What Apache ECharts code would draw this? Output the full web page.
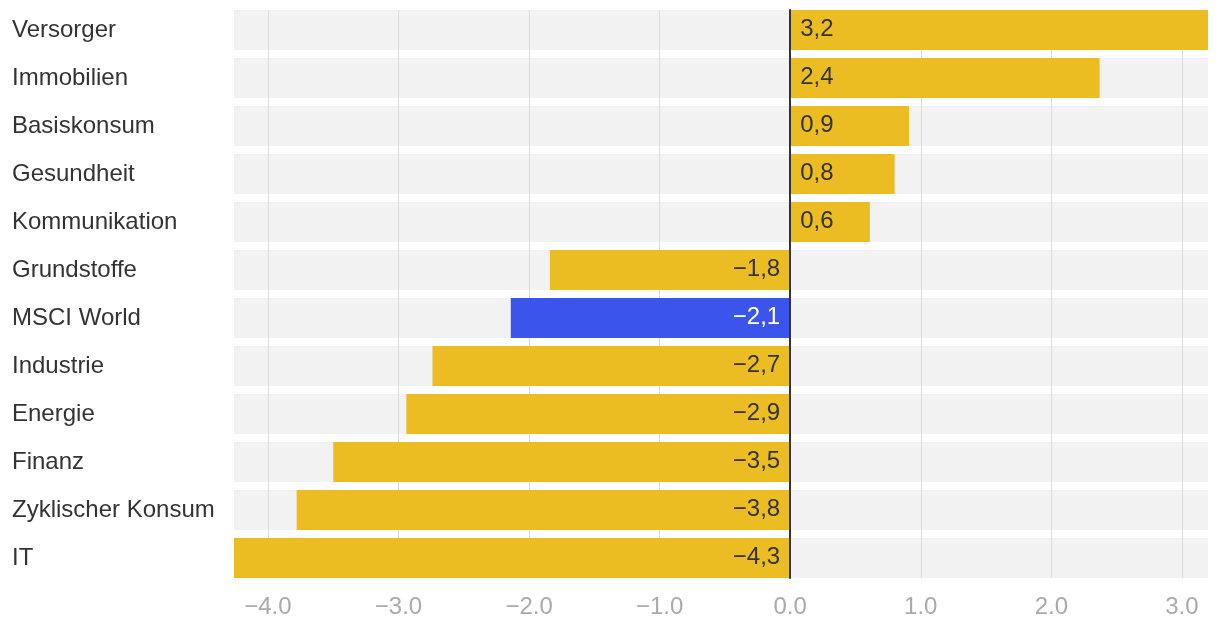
<!DOCTYPE html>
<html><head><meta charset="utf-8">
<script src="https://cdn.jsdelivr.net/npm/echarts@6/dist/echarts.min.js"></script>
<style>html,body{margin:0;padding:0;background:#fff}#c{width:1220px;height:620px}</style>
</head><body><div id="c"></div>
<script>
const categories = ['Versorger','Immobilien','Basiskonsum','Gesundheit','Kommunikation','Grundstoffe','MSCI World','Industrie','Energie','Finanz','Zyklischer Konsum','IT'];
const values = [3.2, 2.37, 0.91, 0.8, 0.61, -1.84, -2.14, -2.74, -2.94, -3.5, -3.78, -4.26];
const highlight = 'MSCI World';
const tickMin = -4, tickMax = 3;

const YELLOW = '#EBBD22', BLUE = '#3A54EC';
const FONT = '"Liberation Sans", Arial, Helvetica, sans-serif';
const FS = 24;
const axMin = Math.min(...values), axMax = Math.max(...values);
const g0 = {left: 234, right: 12, top: 6, height: 576};
const W = 1220 - g0.left - g0.right;
const ppu = W / (axMax - axMin);
const g1left = g0.left + (tickMin - axMin) * ppu;
const g1right = 1220 - (g0.left + (tickMax - axMin) * ppu);
const fmt = v => (v < 0 ? '\u2212' : '') + Math.abs(v).toFixed(1);

const chart = echarts.init(document.getElementById('c'), null, {renderer: 'canvas'});
chart.setOption({
  animation: false,
  textStyle: {fontFamily: FONT},
  grid: [
    {left: g0.left, right: g0.right, top: g0.top, height: g0.height, containLabel: false},
    {left: g1left, right: g1right, top: 10, height: 568, containLabel: false}
  ],
  xAxis: [
    {gridIndex: 0, type: 'value', min: axMin, max: axMax, show: false, splitLine: {show: false}},
    {gridIndex: 1, type: 'value', min: tickMin, max: tickMax, interval: 1, z: 1,
     axisLine: {show: false}, axisTick: {show: false},
     splitLine: {show: true, lineStyle: {color: '#dcdcdc', width: 1}},
     axisLabel: {color: '#aaaaaa', fontSize: FS, fontFamily: FONT, margin: 17,
       formatter: v => fmt(v)}}
  ],
  yAxis: [
    {gridIndex: 0, type: 'category', data: categories, inverse: true,
     axisLine: {show: false, onZero: false}, axisTick: {show: false}, splitLine: {show: false},
     axisLabel: {align: 'left', margin: g0.left - 12, color: '#333', fontSize: FS, fontFamily: FONT,
       padding: [0, 0, 5, 0]}},
    {gridIndex: 1, type: 'category', data: categories, inverse: true, z: 3,
     axisLine: {show: true, onZero: true, lineStyle: {color: '#333', width: 2}},
     axisTick: {show: false}, axisLabel: {show: false}, splitLine: {show: false}}
  ],
  series: [
    {type: 'bar', xAxisIndex: 0, yAxisIndex: 0, z: 0, barWidth: 40, barGap: '-100%',
     data: categories.map(() => 0), showBackground: true,
     backgroundStyle: {color: '#f2f2f2'}, itemStyle: {color: 'rgba(0,0,0,0)'}, silent: true},
    {type: 'bar', xAxisIndex: 0, yAxisIndex: 0, z: 2, barWidth: 40, barGap: '-100%',
     data: values.map((v, i) => ({
       value: v,
       itemStyle: {color: categories[i] === highlight ? BLUE : YELLOW},
       label: {show: true, position: v >= 0 ? 'insideLeft' : 'insideRight', distance: 10,
         offset: [0, -1],
         color: categories[i] === highlight ? '#fff' : '#333', fontSize: FS, fontFamily: FONT,
         formatter: () => fmt(v).replace('.', ',')}
     }))}
  ]
});
</script></body></html>
